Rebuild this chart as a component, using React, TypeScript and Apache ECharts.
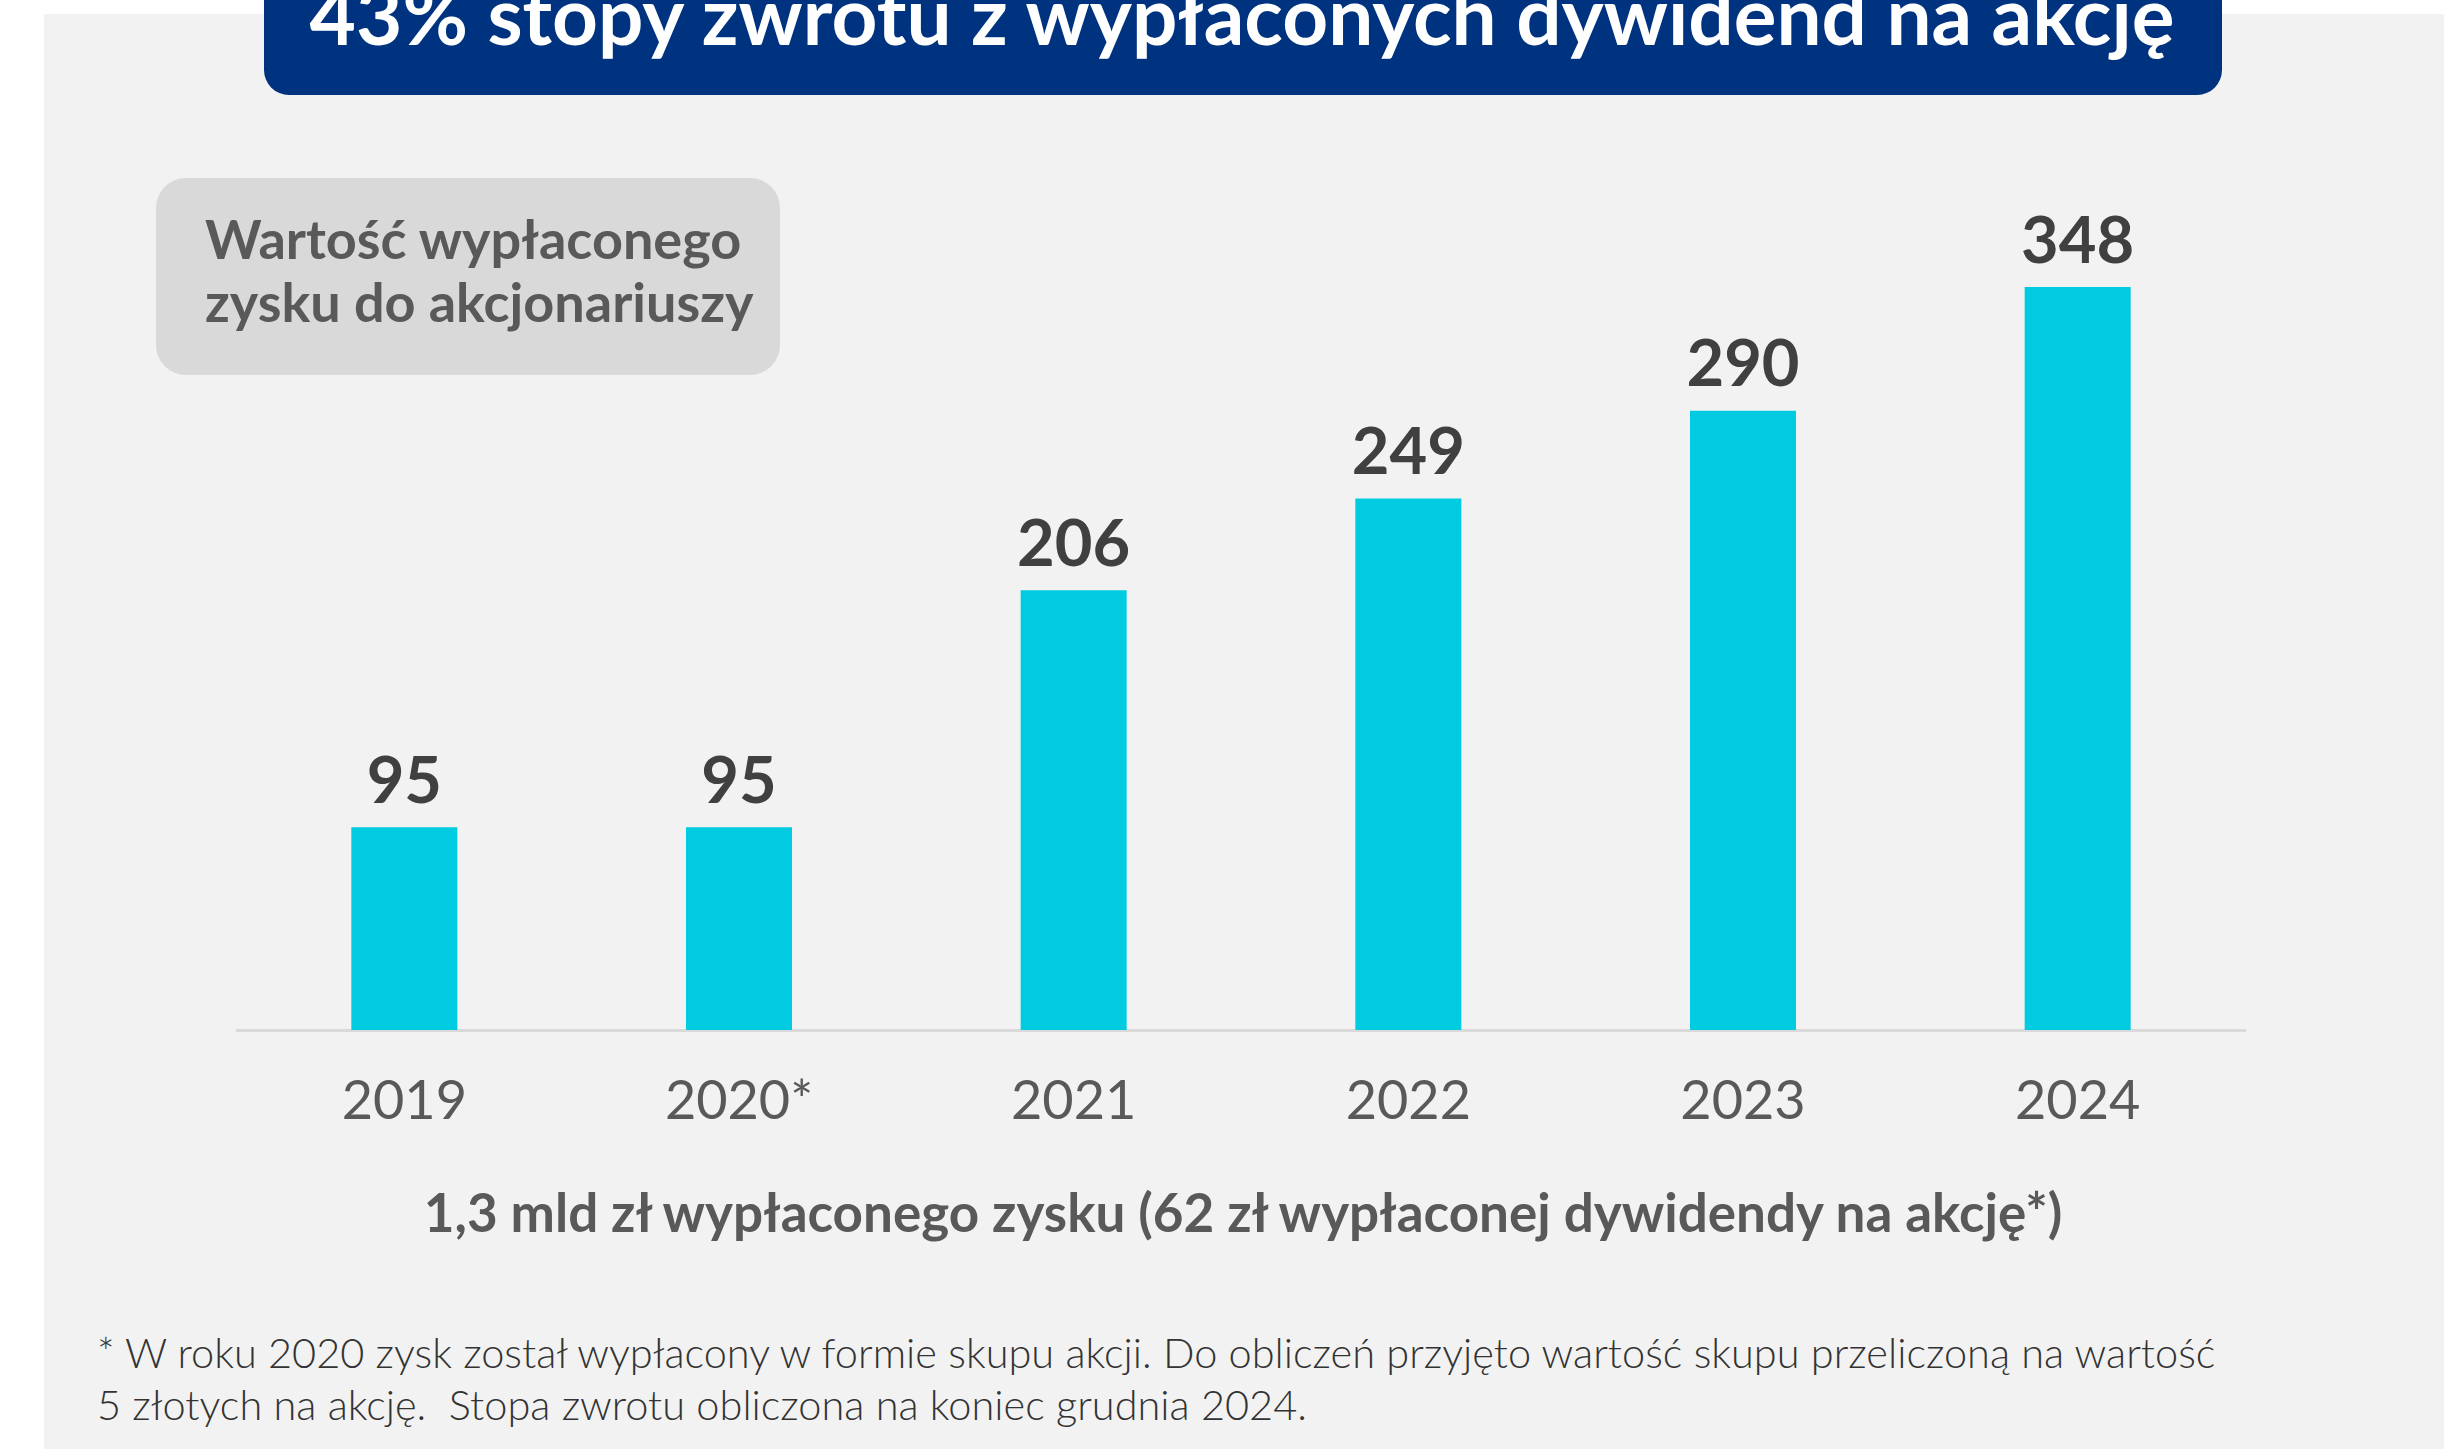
import React, { useEffect, useRef } from "react";
import * as echarts from "echarts";

const categories = ["2019", "2020*", "2021", "2022", "2023", "2024"];
const values = [95, 95, 206, 249, 290, 348];

const titleText = "43% stopy zwrotu z wypłaconych dywidend na akcję";
const boxText = "Wartość wypłaconego\nzysku do akcjonariuszy";
const subtitleText = "1,3 mld zł wypłaconego zysku (62 zł wypłaconej dywidendy na akcję*)";
const footnoteText =
  "* W roku 2020 zysk został wypłacony w formie skupu akcji. Do obliczeń przyjęto wartość skupu przeliczoną na wartość\n5 złotych na akcję.  Stopa zwrotu obliczona na koniec grudnia 2024.";

export default function App() {
  const ref = useRef<HTMLDivElement>(null);
  useEffect(() => {
    if (!ref.current) return;
    const chart = echarts.init(ref.current, undefined, { renderer: "svg" });
    chart.setOption({
      animation: false,
      backgroundColor: "#ffffff",
      textStyle: { fontFamily: "Lato" },
      graphic: [
        {
          type: "rect",
          z: -10,
          shape: { x: 44, y: 14, width: 2400, height: 1435 },
          style: { fill: "#f2f2f2" },
          silent: true,
        },
        {
          type: "rect",
          z: -5,
          shape: { x: 264, y: -40, width: 1958, height: 135, r: 25 },
          style: { fill: "#00337f" },
          silent: true,
        },
        {
          type: "text",
          z: 5,
          x: 1242,
          y: 14,
          style: {
            text: titleText,
            fill: "#ffffff",
            font: "bold 80px Lato",
            align: "center",
            verticalAlign: "middle",
          },
        },
        {
          type: "rect",
          z: -5,
          shape: { x: 156, y: 178, width: 624, height: 197, r: 30 },
          style: { fill: "#d9d9d9" },
          silent: true,
        },
        {
          type: "text",
          z: 5,
          x: 205,
          y: 270,
          style: {
            text: boxText,
            fill: "#595959",
            font: "bold 54px Lato",
            lineHeight: 63,
            align: "left",
            verticalAlign: "middle",
          },
        },
        {
          type: "text",
          z: 5,
          x: 1243,
          y: 1211,
          style: {
            text: subtitleText,
            fill: "#595959",
            font: "bold 53px Lato",
            align: "center",
            verticalAlign: "middle",
          },
        },
        {
          type: "text",
          z: 5,
          x: 97,
          y: 1378,
          style: {
            text: footnoteText,
            fill: "#333333",
            font: "300 41.5px 'Lato Light', Lato",
            lineHeight: 52,
            align: "left",
            verticalAlign: "middle",
          },
        },
      ],
      grid: { left: 237, right: 199, top: 176, bottom: 419, containLabel: false },
      xAxis: {
        type: "category",
        data: categories,
        axisLine: { show: true, lineStyle: { color: "#d9d9d9", width: 3 } },
        axisTick: { show: false },
        axisLabel: {
          color: "#595959",
          fontFamily: "Lato",
          fontSize: 54,
          lineHeight: 54,
          margin: 41,
        },
      },
      yAxis: {
        type: "value",
        min: 0,
        max: 400,
        show: false,
        splitLine: { show: false },
      },
      series: [
        {
          type: "bar",
          data: values,
          barWidth: 106,
          itemStyle: { color: "#00cbe0" },
          label: {
            show: true,
            position: "top",
            distance: 17,
            color: "#404040",
            fontFamily: "Lato",
            fontWeight: "bold",
            fontSize: 65,
            lineHeight: 65,
          },
        },
      ],
    });
    return () => chart.dispose();
  }, []);
  return (
    <div
      ref={ref}
      style={{ position: "absolute", left: 0, top: 0, width: 2444, height: 1449 }}
    />
  );
}
